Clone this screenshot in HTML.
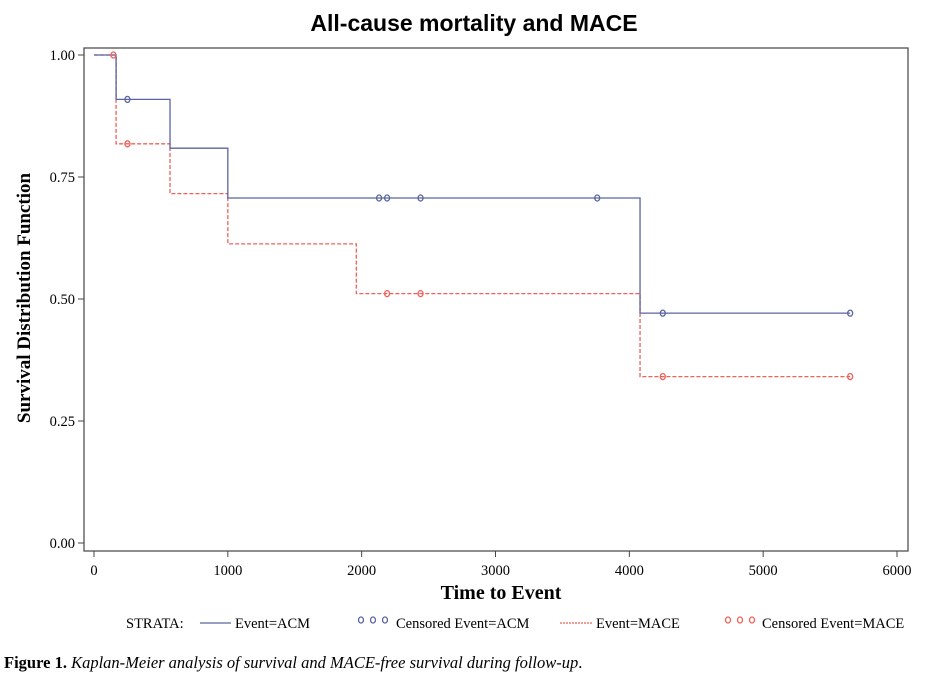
<!DOCTYPE html>
<html><head><meta charset="utf-8"><style>
body{margin:0;background:#fff;width:925px;height:676px;overflow:hidden}
text{font-family:"Liberation Serif",serif}
</style></head><body>
<svg id="c" width="925" height="676">
<text x="474" y="31" text-anchor="middle" style="font-family:'Liberation Sans',sans-serif;font-weight:bold;font-size:23px">All-cause mortality and MACE</text>
<rect x="84" y="48" width="824" height="503" fill="none" stroke="#444" stroke-width="1.2"/>
<g id="ax"></g><g id="ser"></g>
<text x="30" y="298" transform="rotate(-90 30 298)" text-anchor="middle" font-size="19" font-weight="bold">Survival Distribution Function</text>
<text x="501" y="599" text-anchor="middle" font-size="20" font-weight="bold">Time to Event</text>
<g font-size="14.5">
<text x="126" y="628">STRATA:</text>
<g><line x1="200" y1="623" x2="231" y2="623" stroke="#5a64a0" stroke-width="1.3"/><text x="235" y="628">Event=ACM</text></g>
<g fill="none" stroke="#5a64a0" stroke-width="1.3"><ellipse cx="361" cy="620" rx="2.5" ry="3"/><ellipse cx="373" cy="620" rx="2.5" ry="3"/><ellipse cx="385" cy="620" rx="2.5" ry="3"/></g>
<text x="396" y="628">Censored Event=ACM</text>
<g><line x1="560" y1="623" x2="592" y2="623" stroke="#f06058" stroke-width="1.2" stroke-dasharray="2 1"/><text x="596" y="628">Event=MACE</text></g>
<g fill="none" stroke="#f06058" stroke-width="1.3"><ellipse cx="728" cy="620" rx="2.5" ry="3"/><ellipse cx="740" cy="620" rx="2.5" ry="3"/><ellipse cx="752" cy="620" rx="2.5" ry="3"/></g>
<text x="762" y="628">Censored Event=MACE</text>
</g>
<text x="4" y="668" font-size="16.5"><tspan font-weight="bold">Figure 1.</tspan> <tspan font-style="italic">Kaplan-Meier analysis of survival and MACE-free survival during follow-up</tspan>.</text>
</svg>
<script>
const xTicks=[0,1000,2000,3000,4000,5000,6000];
const yTicks=[0,0.25,0.5,0.75,1.0];
const yTickLabels=["0.00","0.25","0.50","0.75","1.00"];
const acmTimes=[0,165,568,1000,4080];
const acmSurv=[1.0,0.909,0.809,0.707,0.471];
const acmCensor=[250,2130,2190,2440,3760,4250,5650];
const maceTimes=[0,165,568,1000,1960,4080];
const maceSurv=[1.0,0.818,0.716,0.613,0.511,0.341];
const maceCensor=[145,250,2190,2440,4250,5650];
const xEnd=5650;
const NS="http://www.w3.org/2000/svg";
const X=t=>94+t*(897-94)/6000, Y=s=>543-s*488;
function mk(tag,at,par){const e=document.createElementNS(NS,tag);for(const k in at)e.setAttribute(k,at[k]);par.appendChild(e);return e;}
const ax=document.getElementById('ax'), ser=document.getElementById('ser');
xTicks.forEach(t=>{
 const l=mk('line',{x1:X(t),x2:X(t),y1:551,y2:557,stroke:'#444'},ax);
 
 
 const tx=mk('text',{x:X(t),y:575,'text-anchor':'middle','font-size':14.5},ax);tx.textContent=t;
 
 
});
yTicks.forEach((v,i)=>{
 const l=mk('line',{x1:78,x2:84,y1:Y(v),y2:Y(v),stroke:'#444'},ax);
 
 
 const tx=mk('text',{x:75,y:Y(v)+5,'text-anchor':'end','font-size':14.5},ax);tx.textContent=yTickLabels[i];
 
 
});
function step(times,surv){let d=`M${X(times[0])},${Y(surv[0])}`;for(let i=1;i<times.length;i++){d+=`H${X(times[i])}V${Y(surv[i])}`;}return d+`H${X(xEnd)}`;}
function at(times,surv,t){let s=surv[0];for(let i=0;i<times.length;i++)if(times[i]<=t)s=surv[i];return s;}
const pm=mk('path',{d:step(maceTimes,maceSurv),fill:'none',stroke:'#f06058','stroke-width':1.3,'stroke-dasharray':'4 2'},ser);


const pa=mk('path',{d:step(acmTimes,acmSurv),fill:'none',stroke:'#5a64a0','stroke-width':1.3},ser);


acmCensor.forEach(t=>{const c=mk('ellipse',{cx:X(t),cy:Y(at(acmTimes,acmSurv,t)),rx:2.5,ry:3,fill:'none',stroke:'#5a64a0','stroke-width':1.3},ser);
 
 });
maceCensor.forEach(t=>{const c=mk('ellipse',{cx:X(t),cy:Y(at(maceTimes,maceSurv,t)),rx:2.5,ry:3,fill:'none',stroke:'#f06058','stroke-width':1.3},ser);
 
 });
</script>
</body></html>
